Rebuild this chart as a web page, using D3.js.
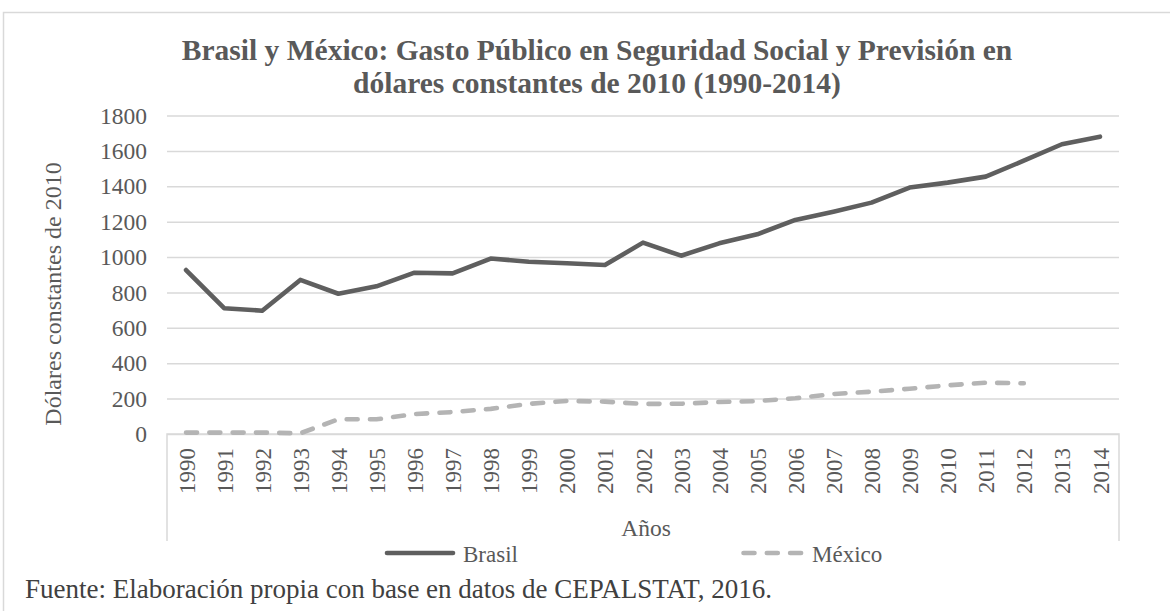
<!DOCTYPE html>
<html>
<head>
<meta charset="utf-8">
<script src="https://cdn.jsdelivr.net/npm/d3@7"></script>
<style>
  html, body { margin: 0; padding: 0; background: #fff; }
  svg { display: block; font-family: "Liberation Serif", "Times New Roman", serif; }
</style>
</head>
<body>
<svg id="chart" width="1170" height="611"></svg>
<script>
// Gasto público en seguridad social y previsión, dólares constantes de 2010
const years = ["1990","1991","1992","1993","1994","1995","1996","1997","1998","1999",
               "2000","2001","2002","2003","2004","2005","2006","2007","2008","2009",
               "2010","2011","2012","2013","2014"];
const brasil = [927, 711, 697, 871, 793, 835, 912, 908, 992, 974,
                965, 955, 1082, 1008, 1078, 1129, 1210, 1257, 1308, 1393,
                1421, 1455, 1545, 1638, 1681];
// México: sin datos para 2013 y 2014
const mexico = [8, 8, 8, 4, 83, 83, 113, 124, 142, 170,
                187, 183, 170, 171, 181, 186, 202, 226, 239, 256,
                275, 290, 287, null, null];
const yTicks = [0, 200, 400, 600, 800, 1000, 1200, 1400, 1600, 1800];
const seriesNames = ["Brasil", "México"];

const svg = d3.select("#chart");
const W = 1170, H = 611;
const plot = { left: 167, right: 1119, top: 115.6, bottom: 434 };
const textColor = "#595959";
const gridColor = "#d9d9d9";
const serif = "Liberation Serif, Times New Roman, serif";

// outer chart frame
svg.append("rect")
  .attr("x", 3.5).attr("y", 12.5)
  .attr("width", W + 10).attr("height", H + 10)
  .attr("fill", "none").attr("stroke", gridColor).attr("stroke-width", 1.5);

const x = d3.scalePoint().domain(years).range([plot.left, plot.right]).padding(0.5);
const y = d3.scaleLinear().domain([0, 1800]).range([plot.bottom, plot.top]);

// title
const title = svg.append("text")
  .attr("text-anchor", "middle")
  .attr("font-weight", "bold")
  .attr("font-size", 29.5)
  .attr("fill", textColor);
title.append("tspan").attr("x", 597).attr("y", 60)
  .text("Brasil y México: Gasto Público en Seguridad Social y Previsión en");
title.append("tspan").attr("x", 597).attr("y", 92.5)
  .text("dólares constantes de 2010 (1990-2014)");

// horizontal gridlines and y axis labels
const yAxis = d3.axisLeft(y)
  .tickValues(yTicks)
  .tickFormat(d3.format("d"))
  .tickSize(-(plot.right - plot.left))
  .tickPadding(20);
const gy = svg.append("g").attr("transform", `translate(${plot.left},0)`).call(yAxis);
gy.select(".domain").remove();
gy.selectAll(".tick line").attr("stroke", gridColor).attr("stroke-width", 1.5);
gy.selectAll(".tick text")
  .attr("fill", textColor)
  .attr("font-size", 23.5)
  .attr("font-family", serif);

// category axis frame: baseline plus side edges
const axisFrame = d3.path();
axisFrame.moveTo(plot.left, 541); axisFrame.lineTo(plot.left, plot.bottom);
axisFrame.lineTo(plot.right, plot.bottom); axisFrame.lineTo(plot.right, 541);
svg.append("path").attr("d", axisFrame.toString())
  .attr("fill", "none").attr("stroke", gridColor).attr("stroke-width", 1.5);

// year labels, rotated
const xAxis = d3.axisBottom(x).tickSize(0).tickPadding(0);
const gx = svg.append("g").attr("transform", `translate(0,${plot.bottom})`).call(xAxis);
gx.select(".domain").remove();
gx.selectAll(".tick text")
  .attr("fill", textColor)
  .attr("font-size", 23)
  .attr("font-family", serif)
  .attr("text-anchor", "end")
  .attr("dy", "0.35em")
  .attr("transform", "translate(0,14) rotate(-90)")
  .attr("x", 0).attr("y", 0);

// axis titles
svg.append("text")
  .attr("x", 646).attr("y", 536)
  .attr("text-anchor", "middle")
  .attr("font-size", 23.5)
  .attr("fill", textColor)
  .text("Años");
svg.append("text")
  .attr("transform", "translate(61,294) rotate(-90)")
  .attr("text-anchor", "middle")
  .attr("font-size", 24)
  .attr("fill", textColor)
  .text("Dólares constantes de 2010");

// series lines
const line = d3.line()
  .defined(d => d.v != null)
  .x(d => x(d.year))
  .y(d => y(d.v));

const styles = {
  "Brasil": { color: "#5f5f5f", dash: null },
  "México": { color: "#b4b4b4", dash: "11,12.3" }
};
const seriesData = [
  { name: "Brasil", values: years.map((yr, i) => ({ year: yr, v: brasil[i] })) },
  { name: "México", values: years.map((yr, i) => ({ year: yr, v: mexico[i] })) }
];

svg.append("g").selectAll("path")
  .data(seriesData.slice().reverse())
  .join("path")
  .attr("d", d => line(d.values))
  .attr("fill", "none")
  .attr("stroke", d => styles[d.name].color)
  .attr("stroke-width", 4.6)
  .attr("stroke-linejoin", "round")
  .attr("stroke-linecap", "round")
  .attr("stroke-dasharray", d => styles[d.name].dash);

// legend
const legendPos = { "Brasil": 387, "México": 743.5 };
const legendLen = { "Brasil": 66, "México": 59 };
const lg = svg.append("g").selectAll("g")
  .data(seriesNames)
  .join("g")
  .attr("transform", d => `translate(${legendPos[d]},553)`);
lg.append("line")
  .attr("x1", 0).attr("x2", d => legendLen[d])
  .attr("stroke", d => styles[d].color)
  .attr("stroke-width", 4.6)
  .attr("stroke-linecap", "round")
  .attr("stroke-dasharray", d => styles[d].dash);
lg.append("text")
  .attr("x", d => legendLen[d] + (d === "Brasil" ? 10 : 9.5))
  .attr("y", 9)
  .attr("font-size", 23)
  .attr("fill", textColor)
  .text(d => d);

// source note
svg.append("text")
  .attr("x", 25).attr("y", 598)
  .attr("font-size", 27)
  .attr("fill", "#404040")
  .text("Fuente: Elaboración propia con base en datos de CEPALSTAT, 2016.");
</script>
</body>
</html>
